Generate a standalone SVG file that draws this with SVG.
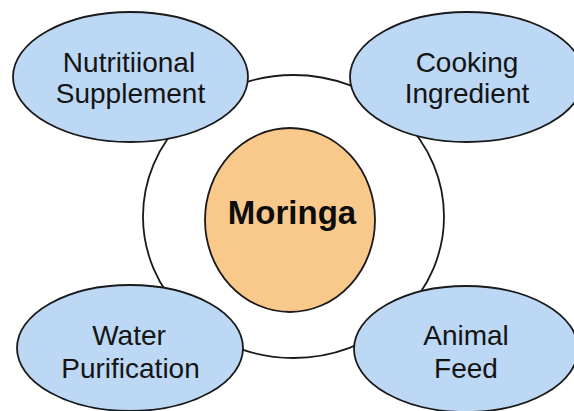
<svg xmlns="http://www.w3.org/2000/svg" width="574" height="411" viewBox="0 0 574 411">
<style>
.bg{fill:#ffffff}
.use{fill:#bcd8f4;stroke:#1a1a1a;stroke-width:1.8}
.core{fill:#f9c98b;stroke:#1a1a1a;stroke-width:1.8}
.ring{fill:#ffffff;stroke:#1a1a1a;stroke-width:1.8}
.lbl{font-family:"Liberation Sans",Arial,sans-serif;font-size:28px;fill:#141414;text-anchor:middle}
.main{font-family:"Liberation Sans",Arial,sans-serif;font-size:33px;font-weight:bold;fill:#0d0d0d;text-anchor:middle}
</style>
<rect class="bg" x="0" y="0" width="574" height="411"/>
<g id="connectors">
<ellipse class="ring" cx="293.5" cy="216.5" rx="150.5" ry="141.5"/>
</g>
<g id="moringa">
<ellipse class="core" cx="290" cy="220" rx="85" ry="92"/>
<text class="main" x="292" y="224">Moringa</text>
</g>
<g id="nutritional-supplement">
<ellipse class="use" cx="130.5" cy="77" rx="117.5" ry="65"/>
<text class="lbl" x="129" y="72">Nutritiional</text>
<text class="lbl" x="130.5" y="103">Supplement</text>
</g>
<g id="cooking-ingredient">
<ellipse class="use" cx="467" cy="77" rx="117" ry="65"/>
<text class="lbl" x="467" y="72">Cooking</text>
<text class="lbl" x="467" y="103">Ingredient</text>
</g>
<g id="water-purification">
<ellipse class="use" cx="130" cy="348" rx="113" ry="63"/>
<text class="lbl" x="129" y="345">Water</text>
<text class="lbl" x="130.5" y="378">Purification</text>
</g>
<g id="animal-feed">
<ellipse class="use" cx="466" cy="349" rx="112" ry="63"/>
<text class="lbl" x="466" y="345">Animal</text>
<text class="lbl" x="466" y="378">Feed</text>
</g>
</svg>
